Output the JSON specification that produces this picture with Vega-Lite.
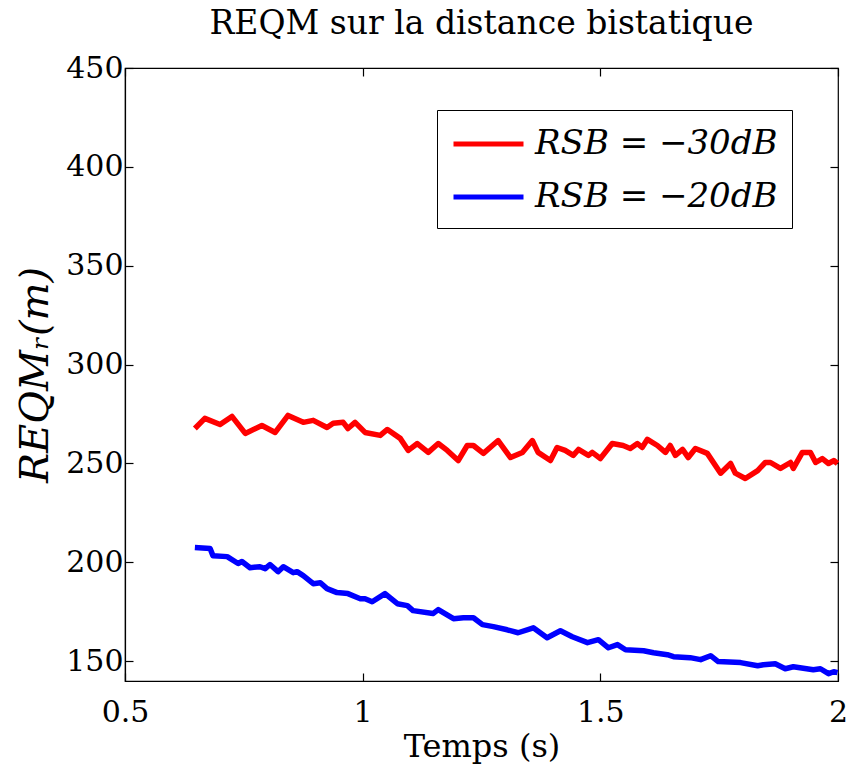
{
  "$schema": "https://vega.github.io/schema/vega-lite/v6.json",
  "width": 713,
  "height": 613,
  "autosize": {"type": "none"},
  "padding": {"left": 125, "top": 68, "right": 18, "bottom": 86},
  "background": "white",
  "title": {"text": "REQM sur la distance bistatique", "font": "DejaVu Serif", "fontSize": 33, "fontWeight": "normal", "color": "black", "anchor": "middle", "offset": 12},
  "config": {
    "view": {"stroke": "black", "strokeWidth": 1.2},
    "axis": {"grid": false, "domainColor": "black", "tickColor": "black", "labelColor": "black", "titleColor": "black", "labelFont": "DejaVu Serif", "titleFont": "DejaVu Serif", "labelFontSize": 30, "titleFontWeight": "normal", "tickSize": -8, "domainWidth": 1.2, "tickWidth": 1.2}
  },
  "data": {"values": [
    {"t":0.647,"v":267.7,"s":"RSB = −30dB"},{"t":0.668,"v":272.8,"s":"RSB = −30dB"},{"t":0.70,"v":269.7,"s":"RSB = −30dB"},{"t":0.725,"v":273.8,"s":"RSB = −30dB"},{"t":0.753,"v":265.2,"s":"RSB = −30dB"},{"t":0.788,"v":269.2,"s":"RSB = −30dB"},{"t":0.816,"v":265.7,"s":"RSB = −30dB"},{"t":0.843,"v":274.3,"s":"RSB = −30dB"},{"t":0.875,"v":270.8,"s":"RSB = −30dB"},{"t":0.896,"v":271.8,"s":"RSB = −30dB"},{"t":0.925,"v":268.2,"s":"RSB = −30dB"},{"t":0.938,"v":270.3,"s":"RSB = −30dB"},{"t":0.959,"v":270.8,"s":"RSB = −30dB"},{"t":0.969,"v":267.7,"s":"RSB = −30dB"},{"t":0.984,"v":270.8,"s":"RSB = −30dB"},{"t":1.005,"v":265.7,"s":"RSB = −30dB"},{"t":1.037,"v":264.2,"s":"RSB = −30dB"},{"t":1.052,"v":267.2,"s":"RSB = −30dB"},{"t":1.079,"v":262.7,"s":"RSB = −30dB"},{"t":1.096,"v":256.6,"s":"RSB = −30dB"},{"t":1.115,"v":260.1,"s":"RSB = −30dB"},{"t":1.138,"v":255.6,"s":"RSB = −30dB"},{"t":1.159,"v":260.1,"s":"RSB = −30dB"},{"t":1.178,"v":256.6,"s":"RSB = −30dB"},{"t":1.201,"v":251.5,"s":"RSB = −30dB"},{"t":1.22,"v":259.1,"s":"RSB = −30dB"},{"t":1.233,"v":259.1,"s":"RSB = −30dB"},{"t":1.254,"v":255.1,"s":"RSB = −30dB"},{"t":1.285,"v":261.6,"s":"RSB = −30dB"},{"t":1.311,"v":253.0,"s":"RSB = −30dB"},{"t":1.336,"v":255.6,"s":"RSB = −30dB"},{"t":1.357,"v":261.6,"s":"RSB = −30dB"},{"t":1.369,"v":255.6,"s":"RSB = −30dB"},{"t":1.395,"v":251.5,"s":"RSB = −30dB"},{"t":1.409,"v":258.1,"s":"RSB = −30dB"},{"t":1.426,"v":256.6,"s":"RSB = −30dB"},{"t":1.443,"v":254.1,"s":"RSB = −30dB"},{"t":1.454,"v":257.1,"s":"RSB = −30dB"},{"t":1.475,"v":254.1,"s":"RSB = −30dB"},{"t":1.483,"v":255.6,"s":"RSB = −30dB"},{"t":1.5,"v":252.5,"s":"RSB = −30dB"},{"t":1.525,"v":260.1,"s":"RSB = −30dB"},{"t":1.548,"v":259.1,"s":"RSB = −30dB"},{"t":1.563,"v":257.6,"s":"RSB = −30dB"},{"t":1.578,"v":260.1,"s":"RSB = −30dB"},{"t":1.588,"v":258.1,"s":"RSB = −30dB"},{"t":1.599,"v":262.2,"s":"RSB = −30dB"},{"t":1.62,"v":259.1,"s":"RSB = −30dB"},{"t":1.637,"v":255.6,"s":"RSB = −30dB"},{"t":1.647,"v":259.1,"s":"RSB = −30dB"},{"t":1.658,"v":254.1,"s":"RSB = −30dB"},{"t":1.673,"v":257.1,"s":"RSB = −30dB"},{"t":1.685,"v":253.0,"s":"RSB = −30dB"},{"t":1.7,"v":257.6,"s":"RSB = −30dB"},{"t":1.725,"v":255.1,"s":"RSB = −30dB"},{"t":1.753,"v":245.1,"s":"RSB = −30dB"},{"t":1.774,"v":250.0,"s":"RSB = −30dB"},{"t":1.784,"v":245.1,"s":"RSB = −30dB"},{"t":1.805,"v":242.4,"s":"RSB = −30dB"},{"t":1.831,"v":246.4,"s":"RSB = −30dB"},{"t":1.847,"v":250.5,"s":"RSB = −30dB"},{"t":1.858,"v":250.5,"s":"RSB = −30dB"},{"t":1.879,"v":247.5,"s":"RSB = −30dB"},{"t":1.9,"v":250.5,"s":"RSB = −30dB"},{"t":1.906,"v":247.5,"s":"RSB = −30dB"},{"t":1.925,"v":255.6,"s":"RSB = −30dB"},{"t":1.942,"v":255.6,"s":"RSB = −30dB"},{"t":1.953,"v":250.5,"s":"RSB = −30dB"},{"t":1.967,"v":252.5,"s":"RSB = −30dB"},{"t":1.98,"v":250.0,"s":"RSB = −30dB"},{"t":1.991,"v":251.5,"s":"RSB = −30dB"},{"t":1.999,"v":250.0,"s":"RSB = −30dB"},
    {"t":0.647,"v":207.5,"s":"RSB = −20dB"},{"t":0.679,"v":207.0,"s":"RSB = −20dB"},{"t":0.685,"v":203.4,"s":"RSB = −20dB"},{"t":0.715,"v":202.9,"s":"RSB = −20dB"},{"t":0.738,"v":199.4,"s":"RSB = −20dB"},{"t":0.746,"v":200.4,"s":"RSB = −20dB"},{"t":0.763,"v":197.3,"s":"RSB = −20dB"},{"t":0.784,"v":197.8,"s":"RSB = −20dB"},{"t":0.795,"v":196.8,"s":"RSB = −20dB"},{"t":0.805,"v":198.9,"s":"RSB = −20dB"},{"t":0.822,"v":195.3,"s":"RSB = −20dB"},{"t":0.833,"v":197.8,"s":"RSB = −20dB"},{"t":0.854,"v":194.8,"s":"RSB = −20dB"},{"t":0.862,"v":195.3,"s":"RSB = −20dB"},{"t":0.875,"v":193.3,"s":"RSB = −20dB"},{"t":0.896,"v":189.2,"s":"RSB = −20dB"},{"t":0.911,"v":189.7,"s":"RSB = −20dB"},{"t":0.925,"v":186.7,"s":"RSB = −20dB"},{"t":0.946,"v":184.7,"s":"RSB = −20dB"},{"t":0.969,"v":184.2,"s":"RSB = −20dB"},{"t":0.995,"v":181.6,"s":"RSB = −20dB"},{"t":1.005,"v":181.6,"s":"RSB = −20dB"},{"t":1.02,"v":180.1,"s":"RSB = −20dB"},{"t":1.047,"v":184.2,"s":"RSB = −20dB"},{"t":1.073,"v":179.1,"s":"RSB = −20dB"},{"t":1.094,"v":178.1,"s":"RSB = −20dB"},{"t":1.106,"v":175.6,"s":"RSB = −20dB"},{"t":1.148,"v":174.1,"s":"RSB = −20dB"},{"t":1.159,"v":176.1,"s":"RSB = −20dB"},{"t":1.191,"v":171.5,"s":"RSB = −20dB"},{"t":1.212,"v":172.0,"s":"RSB = −20dB"},{"t":1.233,"v":172.0,"s":"RSB = −20dB"},{"t":1.252,"v":168.5,"s":"RSB = −20dB"},{"t":1.275,"v":167.5,"s":"RSB = −20dB"},{"t":1.304,"v":165.9,"s":"RSB = −20dB"},{"t":1.327,"v":164.4,"s":"RSB = −20dB"},{"t":1.359,"v":166.9,"s":"RSB = −20dB"},{"t":1.388,"v":161.9,"s":"RSB = −20dB"},{"t":1.416,"v":165.4,"s":"RSB = −20dB"},{"t":1.441,"v":162.4,"s":"RSB = −20dB"},{"t":1.473,"v":159.4,"s":"RSB = −20dB"},{"t":1.496,"v":160.9,"s":"RSB = −20dB"},{"t":1.517,"v":156.8,"s":"RSB = −20dB"},{"t":1.536,"v":158.4,"s":"RSB = −20dB"},{"t":1.553,"v":155.8,"s":"RSB = −20dB"},{"t":1.591,"v":155.3,"s":"RSB = −20dB"},{"t":1.612,"v":154.3,"s":"RSB = −20dB"},{"t":1.641,"v":153.3,"s":"RSB = −20dB"},{"t":1.654,"v":152.3,"s":"RSB = −20dB"},{"t":1.689,"v":151.8,"s":"RSB = −20dB"},{"t":1.711,"v":150.8,"s":"RSB = −20dB"},{"t":1.732,"v":152.8,"s":"RSB = −20dB"},{"t":1.748,"v":149.8,"s":"RSB = −20dB"},{"t":1.795,"v":149.3,"s":"RSB = −20dB"},{"t":1.831,"v":147.7,"s":"RSB = −20dB"},{"t":1.843,"v":148.2,"s":"RSB = −20dB"},{"t":1.868,"v":148.7,"s":"RSB = −20dB"},{"t":1.889,"v":146.2,"s":"RSB = −20dB"},{"t":1.906,"v":147.2,"s":"RSB = −20dB"},{"t":1.948,"v":145.7,"s":"RSB = −20dB"},{"t":1.963,"v":146.2,"s":"RSB = −20dB"},{"t":1.98,"v":143.7,"s":"RSB = −20dB"},{"t":1.991,"v":144.7,"s":"RSB = −20dB"},{"t":1.999,"v":144.2,"s":"RSB = −20dB"}
  ]},
  "layer": [
    {
      "mark": {"type": "line", "strokeWidth": 5.5, "interpolate": "linear", "strokeJoin": "round"},
      "encoding": {
        "x": {"field": "t", "type": "quantitative", "scale": {"domain": [0.5, 2], "nice": false, "zero": false},
              "axis": {"orient": "bottom", "values": [0.5, 1, 1.5, 2], "format": "~g", "title": "Temps (s)", "titleFontSize": 32, "labelPadding": 24, "titlePadding": 4, "labelFlush": false}},
        "y": {"field": "v", "type": "quantitative", "scale": {"domain": [140, 450], "nice": false, "zero": false},
              "axis": {"orient": "left", "values": [150, 200, 250, 300, 350, 400, 450], "title": "REQMᵣ(m)", "titleFontSize": 40, "titleFontStyle": "italic", "labelPadding": 10, "titlePadding": 10, "labelFlush": false}},
        "color": {"field": "s", "type": "nominal", "scale": {"domain": ["RSB = −30dB", "RSB = −20dB"], "range": ["#ff0000", "#0000ff"]},
                  "legend": {"title": null, "orient": "none", "legendX": 312, "legendY": 42, "symbolType": "M-1,0H3", "symbolSize": 1225, "symbolStrokeWidth": 5, "labelFont": "DejaVu Serif", "labelFontStyle": "italic", "labelFontSize": 34, "labelColor": "black", "labelOffset": 44, "labelLimit": 500, "rowPadding": 16, "padding": 14, "strokeColor": "black", "fillColor": "white", "cornerRadius": 0}}
      }
    },
    {
      "mark": {"type": "line", "strokeOpacity": 0},
      "encoding": {
        "x": {"field": "t", "type": "quantitative", "axis": {"orient": "top", "values": [0.5, 1, 1.5, 2], "labels": false, "title": null, "domain": false}},
        "y": {"field": "v", "type": "quantitative", "axis": {"orient": "right", "values": [150, 200, 250, 300, 350, 400, 450], "labels": false, "title": null, "domain": false}},
        "detail": {"field": "s"}
      }
    }
  ],
  "resolve": {"axis": {"x": "independent", "y": "independent"}}
}
